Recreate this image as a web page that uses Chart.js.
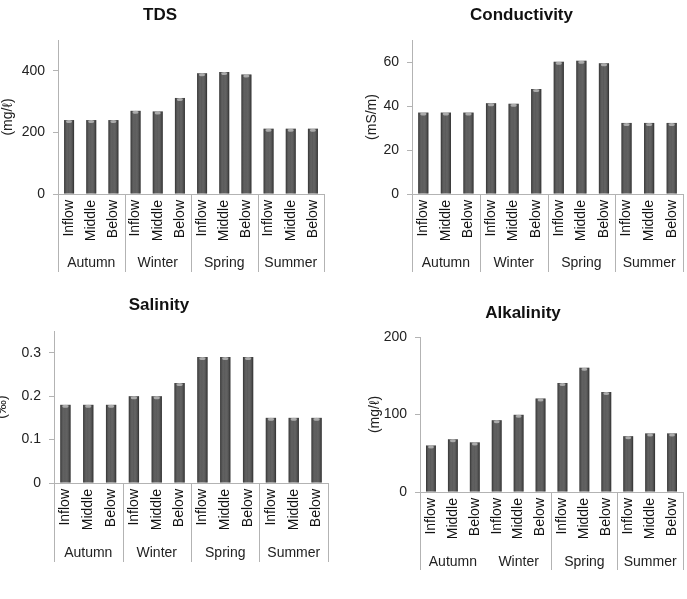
<!DOCTYPE html>
<html>
<head>
<meta charset="utf-8">
<script src="https://cdn.jsdelivr.net/npm/chart.js@4.4.1/dist/chart.umd.min.js"></script>
<style>
    body { margin: 0; background: #fff; width: 687px; height: 599px; overflow: hidden; position: relative; }
    canvas { position: absolute; }
</style>
</head>
<body>
<canvas id="tds"></canvas>
<canvas id="cond"></canvas>
<canvas id="sal"></canvas>
<canvas id="alk"></canvas>
<script>
// categories
const seasons = ['Autumn', 'Winter', 'Spring', 'Summer'];
const sites = ['Inflow', 'Middle', 'Below'];

// values, one per site per season (Autumn..Summer)
const tdsValues = [240, 240, 240, 270, 268, 312, 392, 396, 388, 212, 212, 212];
const condValues = [37, 37, 37, 41.3, 41, 47.7, 60.1, 60.6, 59.4, 32.3, 32.3, 32.3];
const salValues = [0.18, 0.18, 0.18, 0.2, 0.2, 0.23, 0.29, 0.29, 0.29, 0.15, 0.15, 0.15];
const alkValues = [60, 68, 64, 92.6, 99.6, 120.6, 140.7, 160.4, 129, 72, 75.6, 75.6];

const labels = [];
seasons.forEach(() => sites.forEach(s => labels.push(s)));

const FONT = '"Liberation Sans", Arial, sans-serif';
const TEXT = '#222';
const AXIS = '#b3b3b3';

// season row under the rotated site labels, with divider lines
const seasonPlugin = {
    id: 'seasonGroups',
    afterDraw(chart, args, opts) {
        const x = chart.scales.x;
        const area = chart.chartArea;
        const ctx = chart.ctx;
        const half = (x.getPixelForValue(1) - x.getPixelForValue(0)) / 2;
        ctx.save();
        ctx.strokeStyle = AXIS;
        ctx.lineWidth = 1;
        opts.dividers.forEach(k => {
            let px = k * 3 > 11 ? x.getPixelForValue(11) + half : x.getPixelForValue(k * 3) - half;
            px = Math.round(px) + 0.5;
            ctx.beginPath();
            ctx.moveTo(px, area.bottom);
            ctx.lineTo(px, area.bottom + opts.depth);
            ctx.stroke();
        });
        ctx.fillStyle = TEXT;
        ctx.font = '14px ' + FONT;
        ctx.textAlign = 'center';
        ctx.textBaseline = 'middle';
        seasons.forEach((s, i) => {
            ctx.fillText(s, x.getPixelForValue(i * 3 + 1), area.bottom + opts.labelY);
        });
        ctx.restore();
    }
};

// cylinder-ish shading on top of each bar
const barShade = {
    id: 'barShade',
    afterDatasetsDraw(chart) {
        const ctx = chart.ctx;
        chart.getDatasetMeta(0).data.forEach(bar => {
            const p = bar.getProps(['x', 'y', 'base', 'width'], true);
            const l = p.x - p.width / 2;
            const g = ctx.createLinearGradient(l, 0, l + p.width, 0);
            g.addColorStop(0, 'rgba(0,0,0,0.4)');
            g.addColorStop(0.45, 'rgba(255,255,255,0.06)');
            g.addColorStop(1, 'rgba(0,0,0,0.45)');
            ctx.save();
            ctx.fillStyle = g;
            ctx.fillRect(l, p.y, p.width, p.base - p.y);
            ctx.fillStyle = 'rgba(185,185,185,0.85)';
            ctx.beginPath();
            ctx.ellipse(p.x, p.y + 1.5, p.width * 0.3, 1.5, 0, 0, Math.PI * 2);
            ctx.fill();
            ctx.restore();
        });
    }
};

function createPanel(id, box, title, yTitle, data, yMax, yStep, dividers) {
    const canvas = document.getElementById(id);
    canvas.width = box.w;
    canvas.height = box.h;
    canvas.style.left = box.left + 'px';
    canvas.style.top = box.top + 'px';

    new Chart(canvas, {
        type: 'bar',
        data: {
            labels: labels,
            datasets: [{
                label: title,
                data: data,
                backgroundColor: '#505050',
                borderWidth: 0,
                barPercentage: 0.45,
                categoryPercentage: 1
            }]
        },
        options: {
            responsive: false,
            animation: false,
            devicePixelRatio: 1,
            layout: {
                padding: { left: box.padL, right: box.padR, top: 0, bottom: box.padB }
            },
            plugins: {
                legend: { display: false },
                tooltip: { enabled: false },
                title: {
                    display: true,
                    text: title,
                    color: '#111',
                    font: { family: FONT, size: 17, weight: 'bold' },
                    padding: { top: box.titleTop, bottom: box.titleBottom }
                },
                seasonGroups: { dividers: dividers, depth: box.xH, labelY: box.seasonY }
            },
            scales: {
                x: {
                    grid: { display: false, drawTicks: false },
                    border: { display: true, color: AXIS },
                    ticks: {
                        autoSkip: false,
                        minRotation: 90,
                        maxRotation: 90,
                        padding: 6,
                        color: '#111',
                        font: { family: FONT, size: 14 }
                    },
                    afterFit: scale => {
                        scale.height = box.xH;
                        scale.paddingLeft = 0;
                        scale.paddingRight = 0;
                    }
                },
                y: {
                    min: 0,
                    max: yMax,
                    grid: { drawOnChartArea: false, drawTicks: true, tickLength: 5, color: AXIS },
                    border: { color: AXIS },
                    ticks: {
                        stepSize: yStep,
                        padding: 8,
                        color: TEXT,
                        font: { family: FONT, size: 14 }
                    },
                    afterBuildTicks: scale => {
                        scale.ticks = scale.ticks.filter(t => Math.abs(t.value / yStep - Math.round(t.value / yStep)) < 1e-6);
                    },
                    title: {
                        display: true,
                        text: yTitle,
                        color: TEXT,
                        font: { family: FONT, size: 14 }
                    },
                    afterFit: scale => {
                        scale.width = box.yW;
                        scale.paddingTop = 0;
                        scale.paddingBottom = 0;
                    }
                }
            }
        },
        plugins: [barShade, seasonPlugin]
    });
}

createPanel('tds', { left: -6, top: 0, w: 334, h: 290, padL: 2, padR: 4, padB: 18, yW: 62, xH: 78, seasonY: 69, titleTop: 4.8, titleBottom: 14.8 },
    'TDS', '(mg/ℓ)', tdsValues, 500, 200, [0, 1, 2, 3, 4]);
createPanel('cond', { left: 355, top: 0, w: 332, h: 290, padL: 5, padR: 4, padB: 18, yW: 52, xH: 78, seasonY: 69, titleTop: 4.8, titleBottom: 14.8 },
    'Conductivity', '(mS/m)', condValues, 70, 20, [0, 1, 2, 3, 4]);
createPanel('sal', { left: -10, top: 290, w: 340, h: 309, padL: 0, padR: 2, padB: 37, yW: 64, xH: 79, seasonY: 70, titleTop: 4.8, titleBottom: 15.8 },
    'Salinity', '(‰)', salValues, 0.35, 0.1, [0, 1, 2, 3, 4]);
createPanel('alk', { left: 357, top: 290, w: 330, h: 309, padL: 6, padR: 4, padB: 29, yW: 57, xH: 78, seasonY: 70, titleTop: 12.8, titleBottom: 13.8 },
    'Alkalinity', '(mg/ℓ)', alkValues, 200, 100, [0, 2, 3, 4]);
</script>
</body>
</html>
